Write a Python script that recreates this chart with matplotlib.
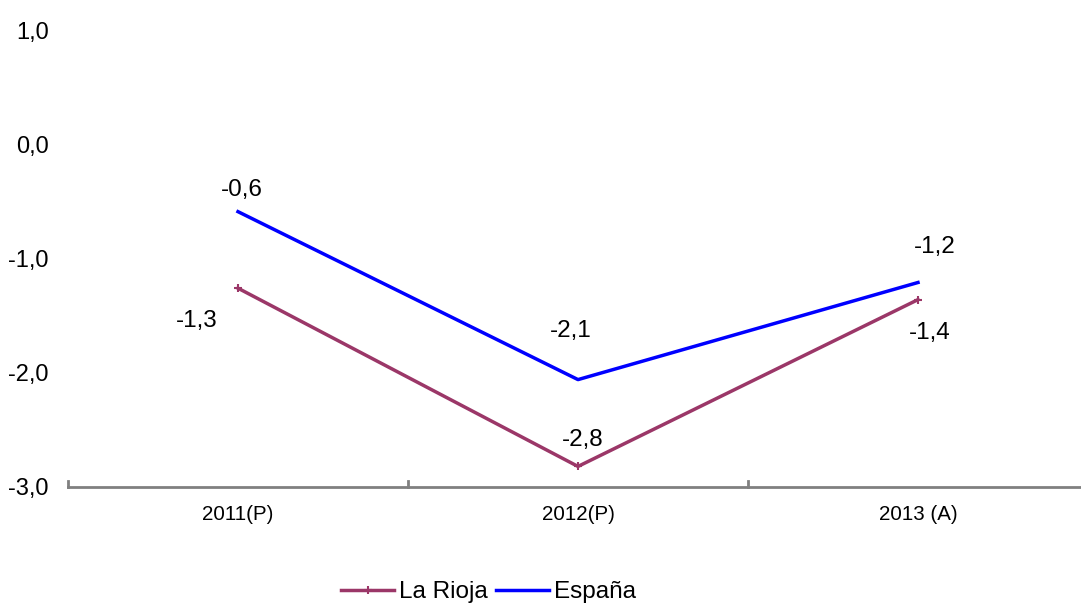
import matplotlib.pyplot as plt

plt.rcParams['font.family'] = ['Liberation Sans', 'DejaVu Sans']

# Data
categories = ['2011(P)', '2012(P)', '2013 (A)']
rioja = [-1.26, -2.82, -1.36]
espana = [-0.59, -2.06, -1.21]
yticks = [-3, -2, -1, 0, 1]

rioja_color = '#9B3768'
espana_color = '#0000FF'

fig = plt.figure(figsize=(10.81, 6.03), dpi=100)
ax = fig.add_axes([68 / 1081, 1 - 487 / 603, 1020 / 1081, 457 / 603])

x = list(range(len(categories)))
ax.plot(x, rioja, color=rioja_color, lw=2.5, marker='+', ms=6, mew=1.5,
        label='La Rioja')
ax.plot(x, espana, color=espana_color, lw=2.5, label='España')

ax.set_xlim(-0.5, len(categories) - 0.5)
ax.set_ylim(-3, 1)
ax.set_yticks(yticks)
ax.set_yticklabels([f'{v:.1f}'.replace('.', ',') for v in yticks], fontsize=17)
ax.set_xticks(x)
ax.set_xticklabels(categories, fontsize=14.8)
ax.tick_params(axis='x', length=0, pad=13)
ax.tick_params(axis='y', length=0, pad=14)

# category boundary ticks drawn upward from the x axis
for b in [-0.5, 0.5, 1.5, 2.5]:
    ax.plot([b, b], [-3, -2.95], color='#808080', lw=2, clip_on=False)

for side in ['top', 'right', 'left']:
    ax.spines[side].set_visible(False)
ax.spines['bottom'].set_color('#808080')
ax.spines['bottom'].set_linewidth(2)

# data labels
fmt = lambda v: f'{v:.1f}'.replace('.', ',')
esp_off = [(4, 22), (-7, 49), (17, 35)]
rio_off = [(-41, -33), (5, 26), (12, -33)]
for i in x:
    ax.annotate(fmt(espana[i]), (i, espana[i]), xytext=esp_off[i],
                textcoords='offset pixels', ha='center', va='center', fontsize=17.5)
    ax.annotate(fmt(rioja[i]), (i, rioja[i]), xytext=rio_off[i],
                textcoords='offset pixels', ha='center', va='center', fontsize=17.5)

fig.legend(loc='center', bbox_to_anchor=(0.452, 1 - 592 / 603), ncol=2,
           frameon=False, fontsize=17.5, handlelength=2.2, columnspacing=0.33,
           handletextpad=0.2)

fig.savefig('out.png', dpi=100)
